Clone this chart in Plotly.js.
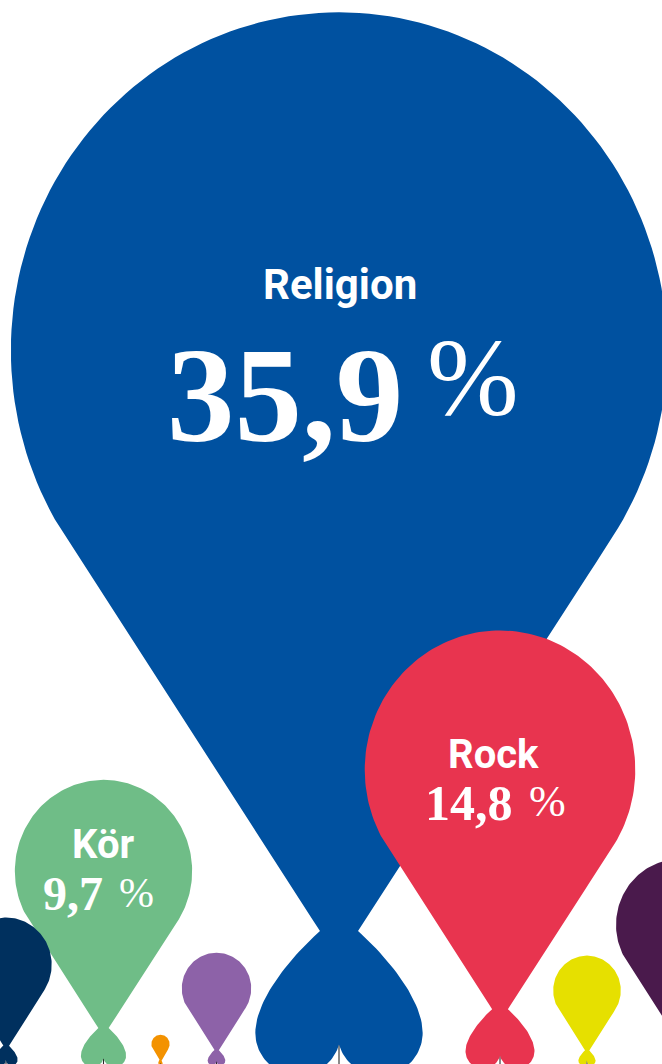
<!DOCTYPE html>
<html>
<head>
<meta charset="utf-8">
<script src="https://cdn.plot.ly/plotly-3.0.1.min.js"></script>
<style>
html,body{margin:0;padding:0;background:#ffffff;overflow:hidden;}
#chart{width:662px;height:1064px;}
</style>
</head>
<body>
<div id="chart"></div>
<script>
// ---- data ----
const categories = ['Religion', 'Rock', 'Kör', '', '', '', '', ''];
const shares = [35.9, 14.8, 9.7, 7.0, 5.0, 3.8, 3.7, 1.0];
const showLabel = [true, true, true, false, false, false, false, false];

// ---- style / placement (not data) ----
const colors = ['#0051A0', '#E8344F', '#6FBD87', '#4A1A4C', '#00305E', '#8D62A8', '#E6E000', '#F39200'];
const balloonX = [339, 500, 103.5, 680, 6, 216.5, 587, 160.5];
const labelLayout = [
  {tdx: 1, tdy: -66, tsize: 42, ndx: 66, ndy: 45, nsize: 135, pdx: 86, pdy: 28, psize: 110},
  {tdx: -7, tdy: -15, tsize: 40, ndx: 15, ndy: 33, nsize: 50, pdx: 27, pdy: 32, psize: 44},
  {tdx: -1, tdy: -27, tsize: 40, ndx: 1.5, ndy: 22, nsize: 48, pdx: 13.5, pdy: 22, psize: 42}
];
const pxPerPoint = 9.14;   // balloon radius per percentage point
const groundV = 2.175;     // ground line below balloon centre, in radii

function bez(p0, p1, p2, p3, n) {
  const pts = [];
  for (let i = 1; i <= n; i++) {
    const t = i / n, u = 1 - t;
    pts.push([
      u*u*u*p0[0] + 3*u*u*t*p1[0] + 3*u*t*t*p2[0] + t*t*t*p3[0],
      u*u*u*p0[1] + 3*u*u*t*p1[1] + 3*u*t*t*p2[1] + t*t*t*p3[1]
    ]);
  }
  return pts;
}

function unitHalf() {
  const pts = [];
  const ry = 1.03, tt = 123.5 * Math.PI / 180;
  for (let i = 0; i <= 70; i++) {
    const th = tt * i / 70;
    pts.push([Math.sin(th), -ry * Math.cos(th)]);
  }
  const P0 = [Math.sin(tt), -ry * Math.cos(tt)];
  const N = [0.058, 1.77];
  // straight taper from the tangent point to the neck
  const P1 = [P0[0] + (N[0] - P0[0]) / 3, P0[1] + (N[1] - P0[1]) / 3];
  const P2 = [P0[0] + 2 * (N[0] - P0[0]) / 3, P0[1] + 2 * (N[1] - P0[1]) / 3];
  pts.push(...bez(P0, P1, P2, N, 30));
  const K = [0.255, 2.08];
  const K1 = [N[0] + 0.12 * 0.75, N[1] + 0.12 * 0.66];
  const K2 = [0.255, 1.98];
  pts.push(...bez(N, K1, K2, K, 30));
  for (let i = 1; i <= 60; i++) {
    const ph = 196 * Math.PI / 180 * i / 60;
    pts.push([0.125 + 0.13 * Math.cos(ph), 2.08 + 0.13 * Math.sin(ph)]);
  }
  return pts;
}
const half = unitHalf();
const outline = half.concat(half.slice().reverse().map(p => [-p[0], p[1]]));

const traces = [];
const annotations = [];
const fmt = v => v.toFixed(1).replace('.', ',');

shares.forEach((v, i) => {
  const R = v * pxPerPoint;
  const cx = balloonX[i];
  const cyH = groundV * R; // centre height above ground
  // string
  traces.push({
    type: 'scatter', mode: 'lines', hoverinfo: 'skip',
    x: [cx, cx], y: [(groundV - 2.044) * R + 1, -20],
    line: {color: '#2a2a2a', width: 1.1}
  });
  // balloon
  traces.push({
    type: 'scatter', mode: 'lines', name: categories[i], hoverinfo: 'skip',
    x: outline.map(p => cx + p[0] * R),
    y: outline.map(p => (groundV - p[1]) * R),
    fill: 'toself', fillcolor: colors[i],
    line: {width: 0, color: colors[i]}
  });
  if (showLabel[i]) {
    const L = labelLayout[i];
    annotations.push({
      x: cx + L.tdx, y: cyH - L.tdy, xref: 'x', yref: 'y', showarrow: false,
      xanchor: 'center', yanchor: 'middle', text: categories[i],
      font: {family: 'Roboto, Inter, sans-serif', size: L.tsize, color: '#ffffff', weight: 700}
    });
    annotations.push({
      x: cx + L.ndx, y: cyH - L.ndy, xref: 'x', yref: 'y', showarrow: false,
      xanchor: 'right', yanchor: 'middle', text: fmt(v),
      font: {family: 'Liberation Serif, serif', size: L.nsize, color: '#ffffff', weight: 700}
    });
    annotations.push({
      x: cx + L.pdx, y: cyH - L.pdy, xref: 'x', yref: 'y', showarrow: false,
      xanchor: 'left', yanchor: 'middle', text: '%',
      font: {family: 'Liberation Serif, serif', size: L.psize, color: '#ffffff', weight: 400}
    });
  }
});

const layout = {
  width: 662, height: 1064,
  margin: {l: 0, r: 0, t: 0, b: 0, pad: 0},
  paper_bgcolor: '#ffffff', plot_bgcolor: '#ffffff',
  showlegend: false, hovermode: false,
  xaxis: {range: [0, 662], visible: false, fixedrange: true},
  yaxis: {range: [0, 1064], visible: false, fixedrange: true},
  annotations: annotations
};
Plotly.newPlot('chart', traces, layout, {staticPlot: true, displayModeBar: false});
</script>
</body>
</html>
